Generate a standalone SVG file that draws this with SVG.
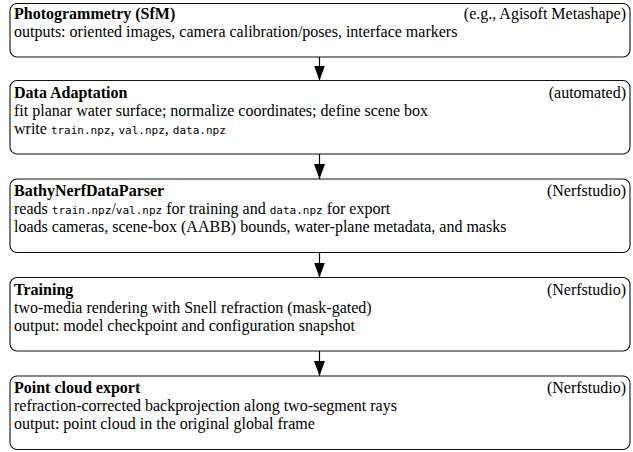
<svg xmlns="http://www.w3.org/2000/svg" width="633" height="452" viewBox="0 0 633 452">
<defs>
<style>
.box{fill:#fff;stroke:#111;stroke-width:1.1}
.t{font-family:"Liberation Serif","Times New Roman",serif;font-size:16px;fill:#000}
.b{font-weight:bold}
.m{font-family:"DejaVu Sans Mono","Liberation Mono",monospace;font-size:11px}
.r{text-anchor:end}
.c{stroke:#000;stroke-width:1.2;fill:none}
</style>
<marker id="ah" markerUnits="userSpaceOnUse" markerWidth="15" markerHeight="11" refX="15" refY="5.5" orient="auto">
<path d="M0,0 L15,5.5 L0,11 Z" fill="#000"/>
</marker>
</defs>
<g id="connectors">
<line class="c" x1="319.5" y1="57" x2="319.5" y2="80.5" marker-end="url(#ah)"/>
<line class="c" x1="319.5" y1="154" x2="319.5" y2="179" marker-end="url(#ah)"/>
<line class="c" x1="319.5" y1="252.5" x2="319.5" y2="277.5" marker-end="url(#ah)"/>
<line class="c" x1="319.5" y1="351" x2="319.5" y2="376" marker-end="url(#ah)"/>
</g>
<g id="photogrammetry">
<rect class="box" x="10" y="3.5" width="620" height="53.5" rx="7"/>
<text class="t b" x="14" y="19">Photogrammetry (SfM)</text>
<text class="t r" x="626" y="19">(e.g., Agisoft Metashape)</text>
<text class="t" x="14" y="36.5">outputs: oriented images, camera calibration/poses, interface markers</text>
</g>
<g id="data-adaptation">
<rect class="box" x="10" y="80.5" width="620" height="73.5" rx="7"/>
<text class="t b" x="14" y="97.5">Data Adaptation</text>
<text class="t r" x="626" y="97.5">(automated)</text>
<text class="t" x="14" y="115.5">fit planar water surface; normalize coordinates; define scene box</text>
<text class="t" x="14" y="133.5">write <tspan class="m">train.npz</tspan>, <tspan class="m">val.npz</tspan>, <tspan class="m">data.npz</tspan></text>
</g>
<g id="parser">
<rect class="box" x="10" y="179" width="620" height="73.5" rx="7"/>
<text class="t b" x="14" y="196">BathyNerfDataParser</text>
<text class="t r" x="626" y="196">(Nerfstudio)</text>
<text class="t" x="14" y="214">reads <tspan class="m">train.npz</tspan>/<tspan class="m">val.npz</tspan> for training and <tspan class="m">data.npz</tspan> for export</text>
<text class="t" x="14" y="232">loads cameras, scene-box (AABB) bounds, water-plane metadata, and masks</text>
</g>
<g id="training">
<rect class="box" x="10" y="277.5" width="620" height="73.5" rx="7"/>
<text class="t b" x="14" y="294.5">Training</text>
<text class="t r" x="626" y="294.5">(Nerfstudio)</text>
<text class="t" x="14" y="312.5">two-media rendering with Snell refraction (mask-gated)</text>
<text class="t" x="14" y="330.5">output: model checkpoint and configuration snapshot</text>
</g>
<g id="export">
<rect class="box" x="10" y="376" width="620" height="73.5" rx="7"/>
<text class="t b" x="14" y="393">Point cloud export</text>
<text class="t r" x="626" y="393">(Nerfstudio)</text>
<text class="t" x="14" y="411">refraction-corrected backprojection along two-segment rays</text>
<text class="t" x="14" y="429">output: point cloud in the original global frame</text>
</g>
</svg>
